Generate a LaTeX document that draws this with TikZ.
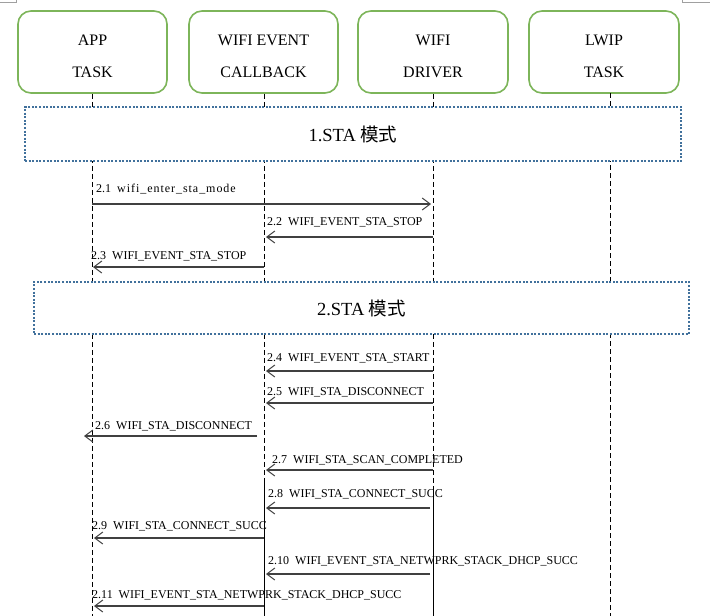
\documentclass[tikz,border=0pt]{standalone}
\usepackage{fontspec}
\setmainfont{Liberation Serif}
\newfontfamily\cjk{Noto Sans CJK SC}
\usetikzlibrary{arrows.meta}
\definecolor{boxgreen}{HTML}{7DB55A}
\definecolor{dotblue}{HTML}{41719C}
\definecolor{msggray}{HTML}{404040}
\definecolor{markgray}{HTML}{A0A0A0}
\begin{document}
\begin{tikzpicture}[x=1pt,y=-1pt,
  actor/.style={draw=boxgreen, line width=1.6pt, rounded corners=13pt, minimum width=149pt, minimum height=82pt, fill=white, inner sep=0pt},
  actortext/.style={align=center, font=\fontsize{16}{32.5}\selectfont, inner sep=0pt},
  phase/.style={draw=dotblue, line width=2pt, dash pattern=on 2pt off 1.6pt, fill=white, inner sep=0pt, font=\fontsize{18.5}{22}\selectfont},
  life/.style={line width=0.8pt, dash pattern=on 5pt off 3pt},
  solidlife/.style={line width=0.9pt},
  msg/.style={draw=msggray, line width=1.2pt, -{Straight Barb[length=8pt,width=12pt,line width=1pt]}},
  lbl/.style={anchor=base west, inner sep=0pt, font=\fontsize{12}{14}\selectfont}
]
\useasboundingbox (0,0) rectangle (710,616);
% corner marks
\draw[markgray, line width=0.8pt] (0,2.5) -- (16.5,2.5) -- (16.5,0);
\draw[markgray, line width=0.8pt] (682,0) -- (682,2.5) -- (710,2.5);

% actor boxes
\node[actor, minimum width=149pt] (app) at (92.5,52) {};
\node[actor] (cb) at (263.5,52) {};
\node[actor, minimum width=150pt] (drv) at (433,52) {};
\node[actor, minimum width=150pt] (lwip) at (604,52) {};
\node[actortext] (appt) at (92.5,56.5) {APP\\TASK};
\node[actortext] (cbt) at (263.5,56.5) {WIFI EVENT\\CALLBACK};
\node[actortext] (drvt) at (433,56.5) {WIFI\\DRIVER};
\node[actortext] (lwipt) at (604,56.5) {LWIP\\TASK};

% lifelines
\coordinate (appB) at (92,616);
\coordinate (cbB) at (264,616);
\coordinate (drvB) at (433,616);
\coordinate (lwipT) at (610,93);
\coordinate (lwipB) at (610,616);
\draw[life] (app.south -| appB) -- (appB);
\draw[life] (cb.south -| cbB) -- (cbB);
\draw[life] (drv.south) -- (drvB);
\draw[life] (lwipT) -- (lwipB);
\coordinate (cbS) at (264,478);
\coordinate (drvS) at (433,488);
\draw[solidlife] (cbS) -- (cbB);
\draw[solidlife] (drvS) -- (drvB);

% phase boxes
\node[phase, minimum width=656pt, minimum height=54pt] (ph1) at (353,134) {1.STA {\cjk 模式}};
\node[phase, minimum width=655pt, minimum height=52pt] (ph2) at (361.5,308) {2.STA {\cjk 模式}};

% messages
\coordinate (m1s) at (92,204);  \coordinate (m1e) at (431,204);
\coordinate (m2s) at (433,237); \coordinate (m2e) at (266,237);
\coordinate (m3s) at (264,267); \coordinate (m3e) at (93,267);
\coordinate (m4s) at (433,371); \coordinate (m4e) at (266,371);
\coordinate (m5s) at (433,403); \coordinate (m5e) at (266,403);
\coordinate (m6s) at (257,436); \coordinate (m6e) at (84,436);
\coordinate (m7s) at (433,470); \coordinate (m7e) at (266,470);
\coordinate (m8s) at (430,508); \coordinate (m8e) at (266,508);
\coordinate (m9s) at (264,538); \coordinate (m9e) at (94,538);
\coordinate (m10s) at (430,574); \coordinate (m10e) at (266,574);
\coordinate (m11s) at (264,606); \coordinate (m11e) at (94,606);

\draw[msg] (m1s) -- (m1e);
\draw[msg] (m2s) -- (m2e);
\draw[msg] (m3s) -- (m3e);
\draw[msg] (m4s) -- (m4e);
\draw[msg] (m5s) -- (m5e);
\draw[msg] (m6s) -- (m6e);
\draw[msg] (m7s) -- (m7e);
\draw[msg] (m8s) -- (m8e);
\draw[msg] (m9s) -- (m9e);
\draw[msg] (m10s) -- (m10e);
\draw[msg] (m11s) -- (m11e);

\node[lbl] (l1) at (96,192) {2.1\ \ {\addfontfeatures{LetterSpace=8}wifi\_enter\_sta\_mode}};
\node[lbl] (l2) at (267,225) {2.2\ \ WIFI\_EVENT\_STA\_STOP};
\node[lbl] (l3) at (91,259) {2.3\ \ WIFI\_EVENT\_STA\_STOP};
\node[lbl] (l4) at (267,361) {2.4\ \ WIFI\_EVENT\_STA\_START};
\node[lbl] (l5) at (267,395) {2.5\ \ WIFI\_STA\_DISCONNECT};
\node[lbl] (l6) at (95,429) {2.6\ \ WIFI\_STA\_DISCONNECT};
\node[lbl] (l7) at (272,463) {2.7\ \ WIFI\_STA\_SCAN\_COMPLETED};
\node[lbl] (l8) at (268,497) {2.8\ \ WIFI\_STA\_CONNECT\_SUCC};
\node[lbl] (l9) at (92,529) {2.9\ \ WIFI\_STA\_CONNECT\_SUCC};
\node[lbl] (l10) at (268,564) {2.10\ \ WIFI\_EVENT\_STA\_NETWPRK\_STACK\_DHCP\_SUCC};
\node[lbl] (l11) at (92,598) {2.11\ \ WIFI\_EVENT\_STA\_NETWPRK\_STACK\_DHCP\_SUCC};
\end{tikzpicture}
\end{document}
